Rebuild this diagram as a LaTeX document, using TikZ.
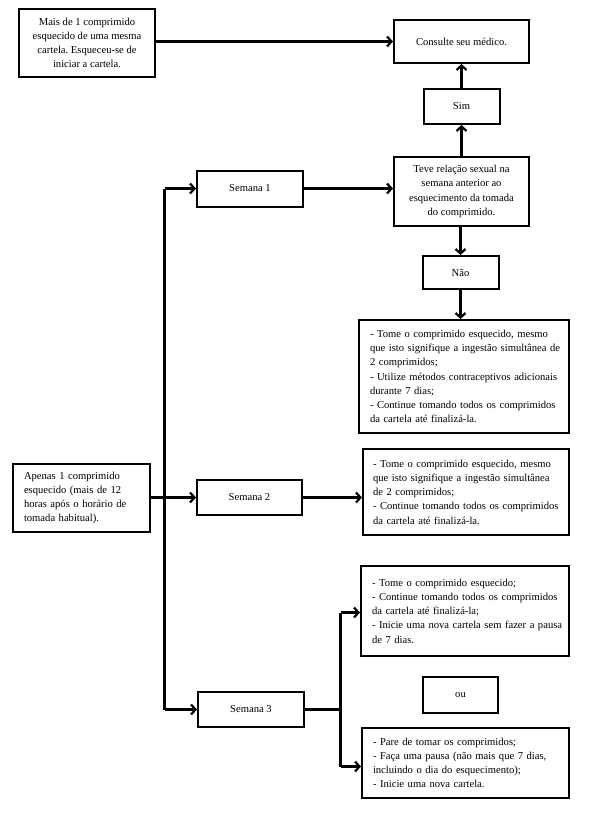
\documentclass[tikz,border=0pt]{standalone}
\usepackage{fontspec}
\setmainfont{Liberation Serif}
\usetikzlibrary{arrows.meta}
\frenchspacing
\begin{document}
\begin{tikzpicture}[x=1pt,y=-1pt,
  box/.style={draw, line width=2pt, inner sep=0pt, font=\fontsize{10.6}{14.2}\selectfont},
  cbox/.style={box, align=center},
  lbox/.style={box, align=left},
  conn/.style={line width=2.4pt, -{Straight Barb[length=4.5pt,width=10pt,line width=2.2pt]}},
  line/.style={line width=2.4pt}]
\useasboundingbox (0,0) rectangle (590,815);
% nodes
\node[cbox, minimum width=136, minimum height=68] (mais) at (87,43)
  {Mais de 1 comprimido\\esquecido de uma mesma\\cartela. Esqueceu-se de\\iniciar a cartela.};
\node[cbox, minimum width=135, minimum height=43] (consulte) at (461.5,41.5) {Consulte seu médico.};
\node[cbox, minimum width=76, minimum height=35] (sim) at (461.5,106.5) {Sim};
\node[cbox, minimum width=135, minimum height=69] (teve) at (461.5,191.5)
  {Teve relação sexual na\\semana anterior ao\\esquecimento da tomada\\do comprimido.};
\node[cbox, minimum width=106, minimum height=36] (s1) at (250,188.5) {Semana 1};
\node[cbox, minimum width=76, minimum height=33] (nao) at (460.5,272.5) {Não};
\node[lbox, minimum width=210, minimum height=113, text width=188] (b1) at (464,376.5)
  {\mbox{- Tome o comprimido esquecido, mesmo}\\
   \mbox{que isto signifique a ingestão simultânea de}\\
   \mbox{2 comprimidos;}\\
   \mbox{- Utilize métodos contraceptivos adicionais}\\
   \mbox{durante 7 dias;}\\
   \mbox{- Continue tomando todos os comprimidos}\\
   \mbox{da cartela até finalizá-la.}};
\node[lbox, minimum width=137, minimum height=68, text width=115] (apenas) at (81.5,498)
  {\mbox{Apenas 1 comprimido}\\\mbox{esquecido (mais de 12}\\\mbox{horas após o horário de}\\\mbox{tomada habitual).}};
\node[cbox, minimum width=105, minimum height=35] (s2) at (249.5,497.5) {Semana 2};
\node[lbox, minimum width=206, minimum height=86, text width=186] (b2) at (466,492)
  {\mbox{- Tome o comprimido esquecido, mesmo}\\
   \mbox{que isto signifique a ingestão simultânea}\\
   \mbox{de 2 comprimidos;}\\
   \mbox{- Continue tomando todos os comprimidos}\\
   \mbox{da cartela até finalizá-la.}};
\node[lbox, minimum width=208, minimum height=90, text width=186] (b3a) at (465,611)
  {\mbox{- Tome o comprimido esquecido;}\\
   \mbox{- Continue tomando todos os comprimidos}\\
   \mbox{da cartela até finalizá-la;}\\
   \mbox{- Inicie uma nova cartela sem fazer a pausa}\\
   \mbox{de 7 dias.}};
\node[cbox, minimum width=75, minimum height=36] (ou) at (460.5,695) {ou};
\node[cbox, minimum width=106, minimum height=35] (s3) at (251,709.5) {Semana 3};
\node[lbox, minimum width=207, minimum height=70, text width=185] (b3b) at (465.5,763)
  {\mbox{- Pare de tomar os comprimidos;}\\
   \mbox{- Faça uma pausa (não mais que 7 dias,}\\
   \mbox{incluindo o dia do esquecimento);}\\
   \mbox{- Inicie uma nova cartela.}};
% coordinates
\coordinate (ttop) at (164.5,188.5);
\coordinate (tbot) at (164.5,709.5);
\coordinate (br) at (340.5,709.5);
\coordinate (brtop) at (340.5,612.5);
\coordinate (brbot) at (340.5,766.5);
% connectors
\draw[conn] (mais.east |- consulte.west) -- (consulte.west);
\draw[conn] (sim.north) -- (consulte.south);
\draw[conn] (teve.north -| sim.north) -- (sim.south);
\draw[conn] (teve.south -| nao.south) -- (nao.north);
\draw[conn] (nao.south) -- (b1.north -| nao.south);
\draw[conn] (s1.east) -- (s1.east -| teve.west);
\draw[line] (tbot) -- (ttop);
\draw[conn] (ttop) -- (s1.west);
\draw[conn] (tbot) -- (s3.west);
\draw[conn] (apenas.east |- s2.west) -- (s2.west);
\draw[conn] (s2.east) -- (s2.east -| b2.west);
\draw[line] (s3.east) -- (br);
\draw[line] (brtop) -- (brbot);
\draw[conn] (brtop) -- (brtop -| b3a.west);
\draw[conn] (brbot) -- (brbot -| b3b.west);
\end{tikzpicture}
\end{document}
